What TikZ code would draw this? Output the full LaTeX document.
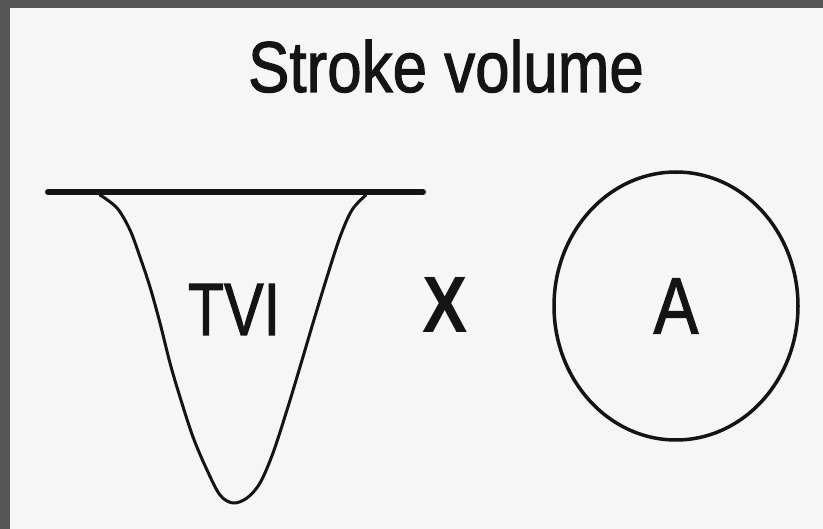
\documentclass[tikz,border=0pt]{standalone}
\usepackage{fontspec}
\usepackage{graphicx}
\setmainfont{Liberation Sans}
\newfontfamily\heavyfont[FakeBold=1.6]{Liberation Sans}
\usetikzlibrary{shapes.geometric}
\definecolor{frame}{HTML}{555555}
\definecolor{paper}{HTML}{F6F6F6}
\definecolor{ink}{HTML}{141414}
\tikzset{
  lbl/.style={inner sep=0pt, anchor=base, text=ink},
  trace/.style={draw=ink, line width=3pt, line join=round, line cap=round},
  baseline/.style={draw=ink, line width=6pt, line cap=round},
  area/.style={draw=ink, line width=3.5pt, ellipse, inner sep=0pt, minimum width=244pt, minimum height=268pt}
}
\begin{document}
\begin{tikzpicture}[x=1pt,y=-1pt]
\fill[frame] (0,0) rectangle (823,529);
\fill[paper] (10,8) rectangle (823,529);
\useasboundingbox (0,0) rectangle (823,529);
\node[lbl] (title) at (446,92) {\heavyfont\fontsize{72}{72}\selectfont\scalebox{0.86}[1]{Stroke volume}};
\coordinate (l0) at (48,192);
\coordinate (l1) at (423,192);
\draw[baseline] (l0) -- (l1);
\draw[trace] plot[smooth, tension=0.55] coordinates {(100,195) (117,208) (130,230) (140,257) (150,287) (160,323) (170,363) (180,397) (193,437) (207,470) (220,495) (233,503) (247,498) (260,483) (273,453) (287,410) (300,367) (313,323) (327,277) (340,237) (352,210) (366,195)};
\node[lbl] (tvi) at (234,335) {\heavyfont\fontsize{74}{74}\selectfont\scalebox{0.8}[1]{TVI}};
\node[lbl] (times) at (445,333) {\fontsize{80}{80}\selectfont\bfseries\scalebox{0.85}[1]{X}};
\node[area, text=ink] (A) at (676,306) {\heavyfont\fontsize{80}{80}\selectfont\scalebox{0.84}[1]{A}};
\end{tikzpicture}
\end{document}
